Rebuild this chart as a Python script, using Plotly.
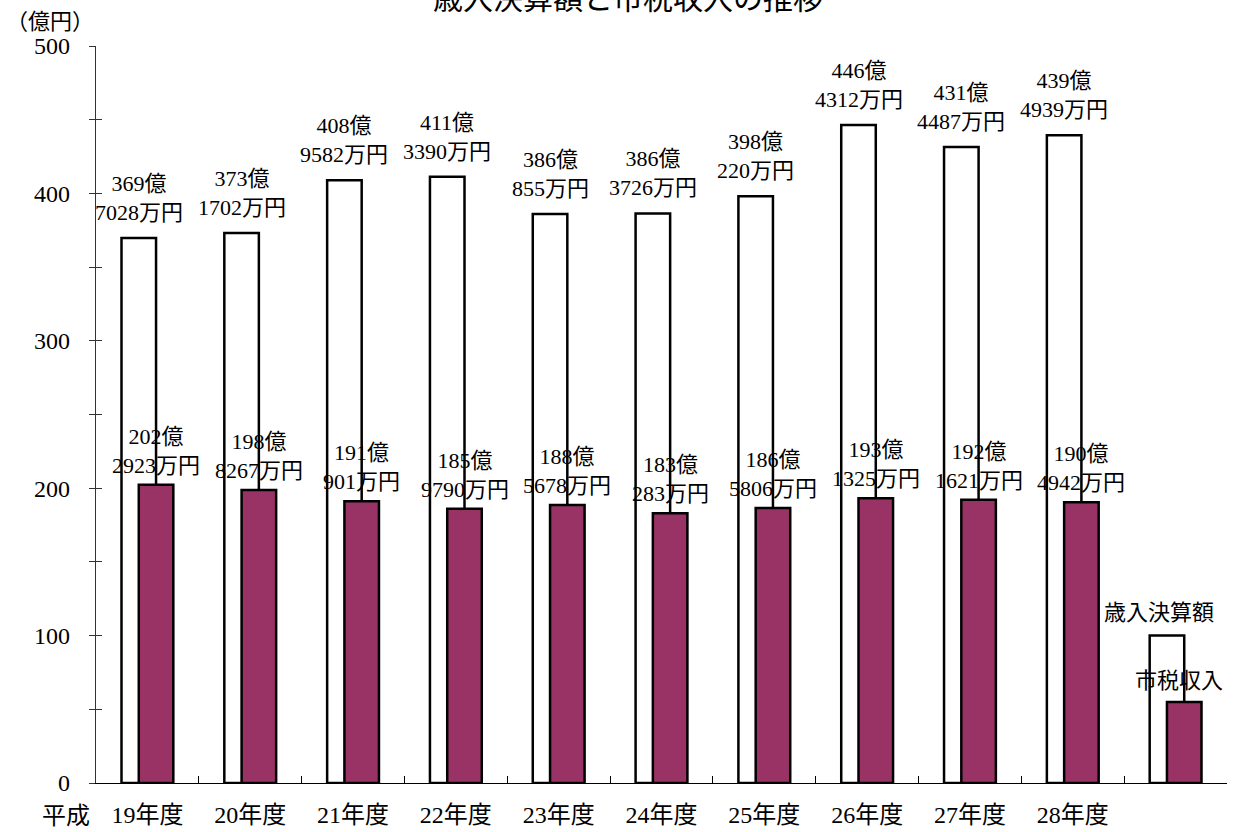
import plotly.graph_objects as go

categories = ["19年度", "20年度", "21年度", "22年度", "23年度", "24年度", "25年度", "26年度", "27年度", "28年度", " "]
series_names = ["歳入決算額", "市税収入"]

# 歳入決算額 (億 + 万円)
total_oku = [369, 373, 408, 411, 386, 386, 398, 446, 431, 439]
total_man = [7028, 1702, 9582, 3390, 855, 3726, 220, 4312, 4487, 4939]
# 市税収入 (億 + 万円)
tax_oku = [202, 198, 191, 185, 188, 183, 186, 193, 192, 190]
tax_man = [2923, 8267, 901, 9790, 5678, 283, 5806, 1325, 1621, 4942]
# legend sample bars (last slot)
legend_total = 100
legend_tax = 55

total_vals = [o + m / 10000 for o, m in zip(total_oku, total_man)] + [legend_total]
tax_vals = [o + m / 10000 for o, m in zip(tax_oku, tax_man)] + [legend_tax]

FONT = "Liberation Serif, Noto Sans CJK JP, serif"
PURPLE = "#993366"
BW = 0.336
OFF = BW / 4

fig = go.Figure()
fig.add_trace(go.Bar(x=categories, y=total_vals, width=BW, offset=-OFF - BW / 2,
                     marker=dict(color="white", line=dict(color="black", width=2.5)),
                     name=series_names[0], hoverinfo="skip"))
fig.add_trace(go.Bar(x=categories, y=tax_vals, width=BW, offset=OFF - BW / 2,
                     marker=dict(color=PURPLE, line=dict(color="black", width=2.5)),
                     name=series_names[1], hoverinfo="skip"))
# invisible trace to anchor the overlay axis (inside half of cross ticks)
fig.add_trace(go.Scatter(x=[categories[0]], y=[0], yaxis="y2", mode="markers",
                         marker=dict(opacity=0), showlegend=False, hoverinfo="skip"))

annotations = []
for i in range(len(total_oku)):
    annotations.append(dict(x=i - OFF, y=total_vals[i], xref="x", yref="y",
                            text=f"{total_oku[i]}億<br>{total_man[i]}万円",
                            showarrow=False, yanchor="bottom", yshift=11,
                            font=dict(family=FONT, size=22, color="black")))
    annotations.append(dict(x=i + OFF, y=tax_vals[i], xref="x", yref="y",
                            text=f"{tax_oku[i]}億<br>{tax_man[i]}万円",
                            showarrow=False, yanchor="bottom", yshift=5,
                            font=dict(family=FONT, size=22, color="black")))
n = len(total_oku)
annotations.append(dict(x=n - OFF - 0.08, y=total_vals[n], xref="x", yref="y", text=series_names[0],
                        showarrow=False, yanchor="bottom", yshift=9,
                        font=dict(family=FONT, size=22, color="black")))
annotations.append(dict(x=n + OFF - 0.05, y=tax_vals[n], xref="x", yref="y", text=series_names[1],
                        showarrow=False, yanchor="bottom", yshift=7,
                        font=dict(family=FONT, size=22, color="black")))
# title (partly cut off at top, as in the source)
annotations.append(dict(x=0.47, y=1, xref="paper", yref="paper", text="歳入決算額と市税収入の推移",
                        showarrow=False, yanchor="middle", yshift=48,
                        font=dict(family=FONT, size=30, color="black")))
# unit label
annotations.append(dict(x=0, y=1, xref="paper", yref="paper", text="（億円）",
                        showarrow=False, xanchor="center", yanchor="middle", xshift=-46, yshift=25,
                        font=dict(family=FONT, size=22, color="black")))
# era label
annotations.append(dict(x=0, y=0, xref="paper", yref="paper", text="平成",
                        showarrow=False, xanchor="center", yanchor="middle", xshift=-30, yshift=-33,
                        font=dict(family=FONT, size=24, color="black")))

fig.update_layout(
    width=1236, height=832,
    margin=dict(l=96, r=9, t=46, b=49),
    paper_bgcolor="white", plot_bgcolor="white",
    barmode="overlay", showlegend=False,
    font=dict(family=FONT, size=22, color="black"),
    annotations=annotations,
    xaxis=dict(type="category", categoryorder="array", categoryarray=categories,
               range=[-0.5, len(categories) - 0.5], automargin=False,
               showline=True, linecolor="black", linewidth=1.2,
               ticks="inside", ticklen=7, tickcolor="black", tickson="boundaries",
               tickfont=dict(family=FONT, size=24, color="black"),
               ticklabelstandoff=10, showgrid=False, zeroline=False),
    yaxis=dict(range=[0, 500], dtick=100, showline=True, linecolor="#333333", linewidth=1.2,
               automargin=False,
               ticks="outside", ticklen=6, tickcolor="#333333",
               minor=dict(dtick=50, ticks="outside", ticklen=6, tickcolor="#333333"),
               tickfont=dict(family=FONT, size=24, color="black"),
               ticklabelstandoff=14, showgrid=False, zeroline=False),
    yaxis2=dict(range=[0, 500], dtick=100, overlaying="y", side="left", anchor="x",
                automargin=False,
                showline=False, ticks="inside", ticklen=6, tickcolor="#333333",
                minor=dict(dtick=50, ticks="inside", ticklen=6, tickcolor="#333333"),
                showticklabels=False, showgrid=False, zeroline=False),
)

fig.write_html("out.html")
